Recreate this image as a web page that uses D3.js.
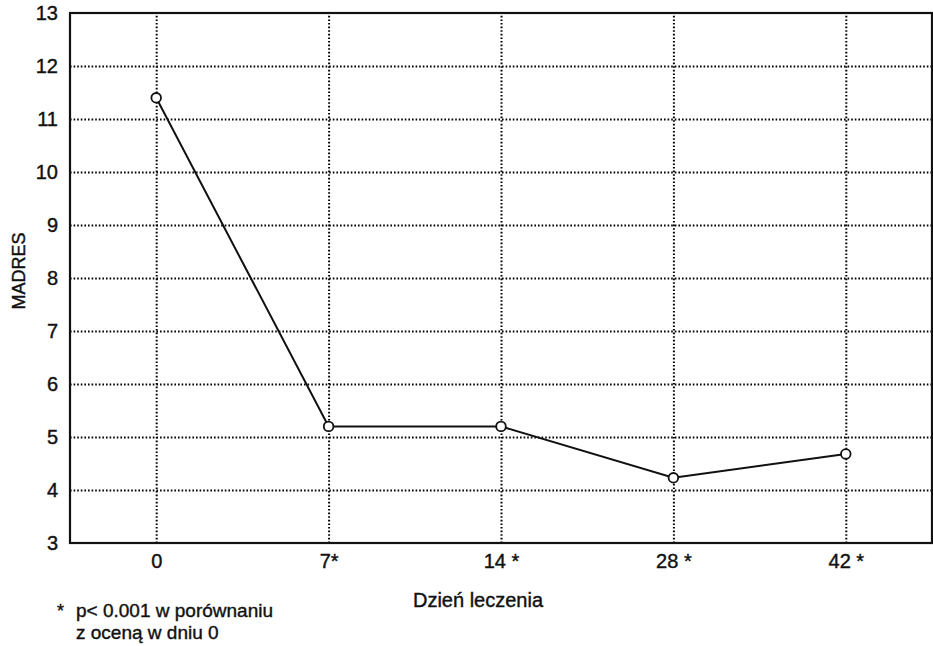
<!DOCTYPE html>
<html>
<head>
<meta charset="utf-8">
<script src="https://cdn.jsdelivr.net/npm/d3@7"></script>
<style>
  body { margin: 0; background: #fff; }
  text { font-family: "Liberation Sans", Arial, sans-serif; fill: #111; stroke: #111; stroke-width: 0.4px; }
</style>
</head>
<body>
<div id="chart"></div>
<script>
// days of treatment and mean MADRS score
var days = ["0", "7", "14", "28", "42"];
var dayLabels = ["0", "7*", "14 *", "28 *", "42 *"];
var madres = [11.4, 5.2, 5.2, 4.23, 4.68];
var yTicks = [3, 4, 5, 6, 7, 8, 9, 10, 11, 12, 13];

var width = 933, height = 646;
var plotLeft = 70, plotRight = 932, plotTop = 13, plotBottom = 543;

var svg = d3.select("#chart")
  .append("svg")
    .attr("width", width)
    .attr("height", height);

var x = d3.scalePoint()
  .domain(days)
  .range([plotLeft, plotRight])
  .padding(0.5);

var y = d3.scaleLinear()
  .domain([3, 13])
  .range([plotBottom, plotTop]);

// horizontal dotted grid + y labels
var yAxis = svg.append("g")
  .attr("transform", "translate(" + plotLeft + ",0)")
  .call(d3.axisLeft(y)
    .tickValues(yTicks)
    .tickFormat(d3.format("d"))
    .tickSize(-(plotRight - plotLeft))
    .tickPadding(12));
yAxis.select(".domain").remove();
yAxis.selectAll(".tick line")
  .attr("stroke", "#000")
  .attr("stroke-width", 2)
  .attr("stroke-dasharray", "1.6,2")
  .attr("display", function(d) { return (d == 3 || d == 13) ? "none" : null; });
yAxis.selectAll(".tick text")
  .attr("font-size", 20)
  .style("fill", "#111");

// vertical dotted grid + x labels
var xAxis = svg.append("g")
  .attr("transform", "translate(0," + plotBottom + ")")
  .call(d3.axisBottom(x)
    .tickFormat(function(d, i) { return dayLabels[i]; })
    .tickSize(-(plotBottom - plotTop))
    .tickPadding(0));
xAxis.select(".domain").remove();
xAxis.selectAll(".tick line")
  .attr("stroke", "#000")
  .attr("stroke-width", 2)
  .attr("stroke-dasharray", "1.6,2");
xAxis.selectAll(".tick text")
  .attr("y", 25)
  .attr("dy", null)
  .attr("font-size", 20)
  .style("fill", "#111");

// frame
svg.append("rect")
  .attr("x", plotLeft)
  .attr("y", plotTop)
  .attr("width", plotRight - plotLeft)
  .attr("height", plotBottom - plotTop)
  .attr("fill", "none")
  .attr("stroke", "#111")
  .attr("stroke-width", 2.2);

// data line
var line = d3.line()
  .x(function(d, i) { return x(days[i]); })
  .y(function(d) { return y(d); });

svg.append("path")
  .datum(madres)
  .attr("d", line)
  .attr("fill", "none")
  .attr("stroke", "#111")
  .attr("stroke-width", 2);

svg.selectAll("circle")
  .data(madres)
  .enter().append("circle")
    .attr("cx", function(d, i) { return x(days[i]); })
    .attr("cy", function(d) { return y(d); })
    .attr("r", 4.8)
    .attr("fill", "#fff")
    .attr("stroke", "#111")
    .attr("stroke-width", 1.8);

// axis titles
svg.append("text")
  .attr("transform", "translate(25,271) rotate(-90)")
  .attr("text-anchor", "middle")
  .attr("font-size", 18)
  .text("MADRES");

svg.append("text")
  .attr("x", 478)
  .attr("y", 607)
  .attr("text-anchor", "middle")
  .attr("font-size", 20)
  .text("Dzień leczenia");

// footnote
svg.append("text")
  .attr("x", 57)
  .attr("y", 617)
  .attr("font-size", 18)
  .text("*");
svg.append("text")
  .attr("x", 76)
  .attr("y", 617)
  .attr("font-size", 19)
  .text("p< 0.001 w porównaniu");
svg.append("text")
  .attr("x", 76)
  .attr("y", 639)
  .attr("font-size", 19)
  .text("z oceną w dniu 0");
</script>
</body>
</html>
